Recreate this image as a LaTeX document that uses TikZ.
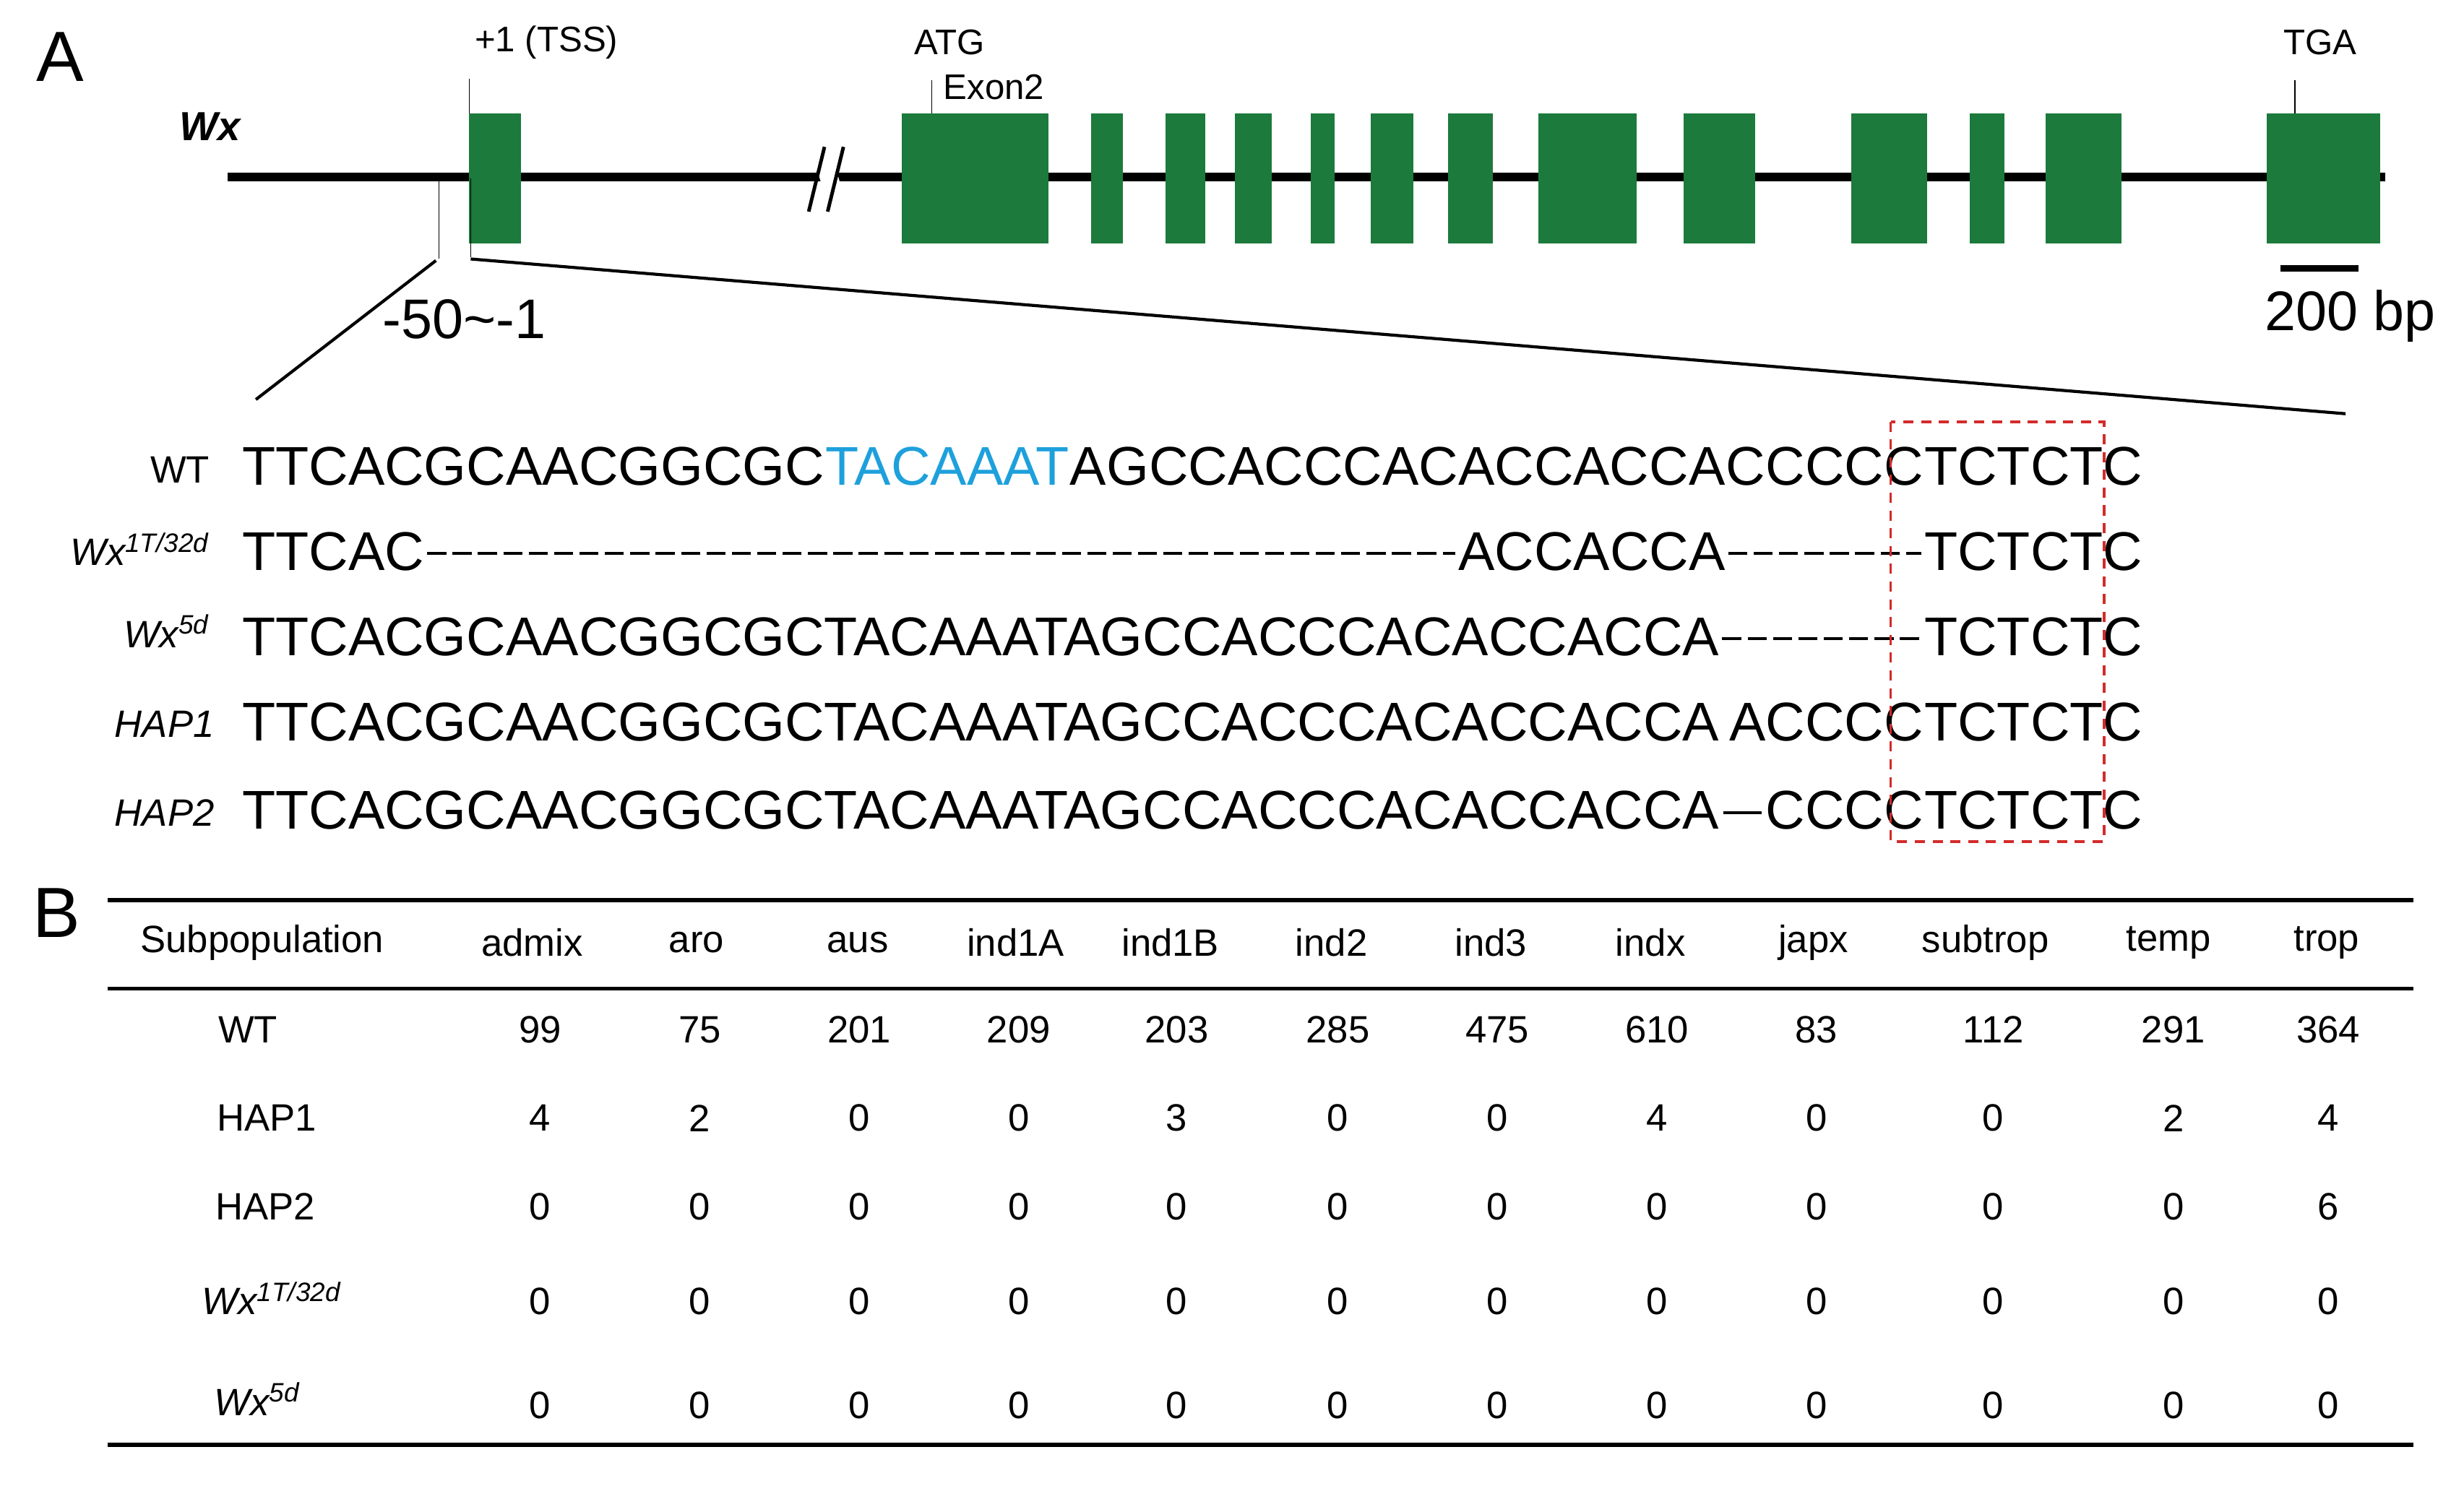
\documentclass[tikz,border=0pt]{standalone}
\usepackage{fontspec}
\setmainfont{Liberation Sans}
\usetikzlibrary{positioning}
\definecolor{exongreen}{RGB}{27,122,60}
\definecolor{boxblue}{RGB}{30,160,220}
\definecolor{boxred}{RGB}{212,42,42}
\tikzset{
  exon/.style={fill=exongreen,draw=none},
  seq/.style={inner sep=0pt,font=\fontsize{21.5}{24}\selectfont},
  lab/.style={inner sep=0pt,font=\fontsize{15}{17}\selectfont},
  gap/.style={line width=1.1pt,dash pattern=on 7.5pt off 2.5pt},
  cell/.style={inner sep=0pt,font=\fontsize{15}{17}\selectfont},
}
\begin{document}
\begin{tikzpicture}[x=0.021859cm,y=-0.021859cm]
    \useasboundingbox (0,0) rectangle (1560,941);
    % panel A: gene model
    \node[inner sep=0pt,font=\fontsize{28}{30}\selectfont] (pA) at (38,36) {A};
    \node[lab,font=\fontsize{16}{18}\selectfont\bfseries\itshape] (wx) at (133,80) {Wx};
    \draw[line width=3.5pt] (144,112) -- (1510,112);
    \foreach \a/\b in {297/330,571/664,691/711,738/763,782/805,830/845,868/895,917/945,974/1036,1066/1111,1172/1220,1247/1269,1295/1343,1435/1507}
        \fill[exon] (\a,72) rectangle (\b,154);
    \fill[white] (512,90) -- (524,90) -- (538,136) -- (526,136) -- cycle;
    \draw[line width=1.4pt] (512,134) -- (522,93) (524,134) -- (534,93);
    \draw[thin] (297,50) -- (297,72);
    \node[lab,font=\fontsize{14}{16}\selectfont] (tss) at (346,27) {+1 (TSS)};
    \node[lab,font=\fontsize{14}{16}\selectfont] (atg) at (601,27) {ATG};
    \draw[thin] (590,51) -- (590,72);
    \node[lab,font=\fontsize{14}{16}\selectfont,anchor=west] (ex2) at (597,55) {Exon2};
    \node[lab,font=\fontsize{14}{16}\selectfont] (tga) at (1469,27) {TGA};
    \draw[thin] (1453,51) -- (1453,72);
    \draw[line width=2.5pt] (1444,170) -- (1493,170);
    \node[lab,font=\fontsize{22}{24}\selectfont] (bar) at (1488,200) {200 bp};
    \draw[thin] (278,113) -- (278,164) (298,113) -- (298,163);
    \draw[line width=1.2pt] (276,165) -- (162,253);
    \draw[line width=1.2pt] (298,164) -- (1485,262);
    \node[lab,font=\fontsize{22}{24}\selectfont] (reg) at (294,202) {-50\textasciitilde-1};
    % sequences
    \node[seq,anchor=base west] (w1) at (153,307) {TTCACGCAACGGCGC};
    \node[seq,anchor=base west,text=boxblue] (w2) at (w1.base east) {TACAAAT};
    \node[seq,anchor=base west] (w3) at (w2.base east) {AGCCACCCACACCACCA};
    \node[seq,anchor=base west] (w4) at (w3.base east) {CCCCC};
    \node[seq,anchor=base west] (w5) at (w4.base east) {TCTCTC};
    \node[seq,anchor=base west] (a1) at (153,361) {TTCAC};
    \node[seq,anchor=base east] (a2) at (w3.base east |- a1.base) {ACCACCA};
    \node[seq,anchor=base west] (a3) at (w5.base west |- a1.base) {TCTCTC};
    \draw[gap] ([xshift=1pt,yshift=6.5pt]a1.base east) -- ([xshift=-1pt,yshift=6.5pt]a2.base west);
    \draw[gap] ([xshift=1pt,yshift=6.5pt]a2.base east) -- ([xshift=-1pt,yshift=6.5pt]a3.base west);
    \node[seq,anchor=base west] (b1) at (153,415) {TTCACGCAACGGCGCTACAAATAGCCACCCACACCACCA};
    \node[seq,anchor=base west] (b3) at (w5.base west |- b1.base) {TCTCTC};
    \draw[gap] ([xshift=1pt,yshift=6.5pt]b1.base east) -- ([xshift=-1pt,yshift=6.5pt]b3.base west);
    \node[seq,anchor=base west] (c1) at (153,469) {TTCACGCAACGGCGCTACAAATAGCCACCCACACCACCA};
    \node[seq,anchor=base east] (c2) at (w4.base east |- c1.base) {ACCCC};
    \node[seq,anchor=base west] (c3) at (w5.base west |- c1.base) {TCTCTC};
    \node[seq,anchor=base west] (d1) at (153,525) {TTCACGCAACGGCGCTACAAATAGCCACCCACACCACCA};
    \node[seq,anchor=base east] (d2) at (w4.base east |- d1.base) {CCCC};
    \node[seq,anchor=base west] (d3) at (w5.base west |- d1.base) {TCTCTC};
    \draw[line width=1.1pt] ([xshift=1.5pt,yshift=6.5pt]d1.base east) -- ([xshift=-1.5pt,yshift=6.5pt]d2.base west);
    \node[lab,anchor=base east] (lw) at (133,306) {WT};
    \node[lab,anchor=base east,font=\fontsize{15}{17}\selectfont\itshape] (l1) at (133,358) {Wx\textsuperscript{1T/32d}};
    \node[lab,anchor=base east,font=\fontsize{15}{17}\selectfont\itshape] (l2) at (133,410) {Wx\textsuperscript{5d}};
    \node[lab,anchor=base east,font=\fontsize{15}{17}\selectfont\itshape] (l3) at (136,467) {HAP1};
    \node[lab,anchor=base east,font=\fontsize{15}{17}\selectfont\itshape] (l4) at (136,523) {HAP2};
    \coordinate (rt) at (1197,267);
    \coordinate (rb) at (1332,533);
    \draw[boxred,line width=1.1pt,dash pattern=on 4pt off 3pt] (rt) rectangle (rb);
    % panel B: table
    \node[inner sep=0pt,font=\fontsize{28}{30}\selectfont] (pB) at (36,578) {B};
    \draw[line width=1.8pt] (68,570) -- (1528,570);
    \draw[line width=1.2pt] (68,626) -- (1528,626);
    \draw[line width=1.8pt] (68,915) -- (1528,915);
    \node[cell] (h0) at (166,597) {Subpopulation};
    \foreach \h/\x [count=\i] in {admix/337,aro/441,aus/543,ind1A/643,ind1B/741,ind2/843,ind3/944,indx/1045,japx/1148,subtrop/1257,temp/1373,trop/1473}
        \node[cell] (h\i) at (\x,597) {\h};
    \node[cell] (r1) at (157,652) {WT};
    \node[cell] (r2) at (169,708) {HAP1};
    \node[cell] (r3) at (168,764) {HAP2};
    \node[cell,font=\fontsize{15}{17}\selectfont\itshape] (r4) at (172,822) {Wx\textsuperscript{1T/32d}};
    \node[cell,font=\fontsize{15}{17}\selectfont\itshape] (r5) at (163,886) {Wx\textsuperscript{5d}};
    \def\colx{342,443,544,645,745,847,948,1049,1150,1262,1376,1474}
    \foreach \y/\vals [count=\r] in {652/{99,75,201,209,203,285,475,610,83,112,291,364},
                                     708/{4,2,0,0,3,0,0,4,0,0,2,4},
                                     764/{0,0,0,0,0,0,0,0,0,0,0,6},
                                     824/{0,0,0,0,0,0,0,0,0,0,0,0},
                                     890/{0,0,0,0,0,0,0,0,0,0,0,0}}
        \foreach \v [count=\i] in \vals {
            \pgfmathsetmacro\cx{{\colx}[\i-1]}
            \node[cell] (t\r-\i) at (\cx,\y) {\v};
        }
\end{tikzpicture}
\end{document}
